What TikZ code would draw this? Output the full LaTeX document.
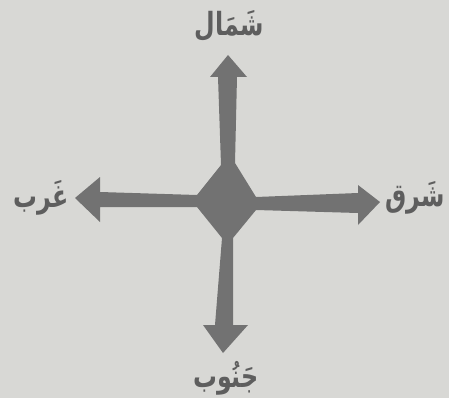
\documentclass[tikz,border=0pt]{standalone}
\usepackage{fontspec}
\usepackage{graphicx}
\newfontfamily\arabicfont[Script=Arabic]{DejaVu Sans}
\TeXXeTstate=1
\definecolor{bg}{HTML}{D8D8D5}
\definecolor{arr}{HTML}{727272}
\definecolor{txt}{HTML}{5E5E5E}
\newcommand{\tallar}[1]{\scalebox{1.08}[1.45]{\arabicfont\bfseries\beginR #1\endR}}
\begin{document}
\begin{tikzpicture}[x=1pt,y=-1pt,
  lbl/.style={text=txt,font=\fontsize{22}{26}\selectfont,inner sep=0pt}]
\fill[bg] (0,0) rectangle (449,398);
\useasboundingbox (0,0) rectangle (449,398);
\coordinate (c) at (228,200);
\fill[arr] (228,55) -- (247,77) -- (237,77) -- (235,163) -- (256,197)
  -- (358,193) -- (358,185) -- (380,202) -- (358,225) -- (358,213) -- (256,210)
  -- (233,238) -- (233,325) -- (248,325) -- (223,353) -- (203,325) -- (215,325)
  -- (222,238) -- (197,207) -- (100,207) -- (100,222) -- (75,198) -- (100,177)
  -- (100,192) -- (197,195) -- (221,165) -- (218,77) -- (210,77) -- cycle;
\node[lbl] (n) at (229,26) {\tallar{شَمَال}};
\node[lbl] (w) at (41,198) {\tallar{غَرب}};
\node[lbl] (e) at (415,198) {\tallar{شَرق}};
\node[lbl] (s) at (226,378) {\tallar{جَنُوب}};
\end{tikzpicture}
\end{document}
